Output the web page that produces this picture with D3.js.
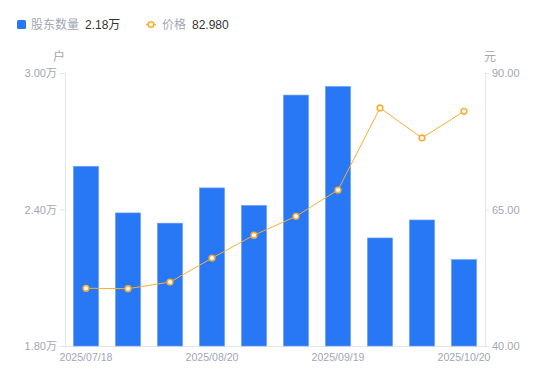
<!DOCTYPE html>
<html>
<head>
<meta charset="utf-8">
<style>
  * { margin:0; padding:0 }
  body { background:#fff; overflow:hidden; }
  svg text { font-family: "Liberation Sans", "Noto Sans CJK SC", sans-serif; }
</style>
<script src="https://cdn.jsdelivr.net/npm/d3@7"></script>
</head>
<body>
<script>
var dates = ["2025/07/18","2025/07/31","2025/08/10","2025/08/20","2025/08/31",
             "2025/09/10","2025/09/19","2025/09/30","2025/10/10","2025/10/20"];
var holders = [2.59, 2.385, 2.34, 2.495, 2.418, 2.903, 2.941, 2.275, 2.354, 2.18];  // 万户
var prices = [50.57, 50.5, 51.7, 56.1, 60.3, 63.75, 68.57, 83.6, 78.1, 82.98];
var leftTicks = [1.8, 2.4, 3.0];
var rightTicks = [40, 65, 90];

var width = 550, height = 381;
var mLeft = 65, mRight = 485, mTop = 73, mBottom = 346;
var blue = "#2878f5", orange = "#f7ae35", grey = "#a3a6b4", axisCol = "#e3e5ea";

var svg = d3.select("body").append("svg")
    .attr("width", width)
    .attr("height", height);

var x = d3.scaleBand().domain(dates).range([mLeft, mRight]).paddingInner(0.4).paddingOuter(0.2);
var y = d3.scaleLinear().domain([1.8, 3.0]).range([mBottom, mTop]);
var y2 = d3.scaleLinear().domain([40, 90]).range([mBottom, mTop]);

// axes
var yAxis = svg.append("g")
    .attr("transform", "translate(" + mLeft + ",0)")
    .call(d3.axisLeft(y).tickValues(leftTicks).tickSize(5).tickPadding(3)
      .tickFormat(function(d) { return d3.format(".2f")(d) + "万"; }));

var yAxis2 = svg.append("g")
    .attr("transform", "translate(" + mRight + ",0)")
    .call(d3.axisRight(y2).tickValues(rightTicks).tickSize(4).tickPadding(3)
      .tickFormat(d3.format(".2f")));

var xAxis = svg.append("g")
    .attr("transform", "translate(0," + mBottom + ")")
    .call(d3.axisBottom(x).tickValues(dates.filter(function(d, i) { return i % 3 == 0; }))
      .tickSize(0).tickPadding(7));

[yAxis, yAxis2, xAxis].forEach(function(g) {
  g.selectAll("path").attr("stroke", axisCol);
  g.selectAll("line").attr("stroke", axisCol);
  g.selectAll("text").attr("fill", grey).attr("font-size", 11);
});
xAxis.selectAll("text").attr("font-size", 10.6);
xAxis.select(".domain").attr("d", "M" + mLeft + ",0.5H" + mRight);

// unit labels
svg.append("text").attr("x", 59).attr("y", 61).attr("text-anchor", "middle")
  .attr("fill", grey).attr("font-size", 12).text("户");
svg.append("text").attr("x", 490).attr("y", 61).attr("text-anchor", "middle")
  .attr("fill", grey).attr("font-size", 12).text("元");

// bars
svg.append("g").selectAll("rect")
  .data(holders)
  .enter().append("rect")
    .attr("x", function(d, i) { return x(dates[i]); })
    .attr("y", function(d) { return y(d); })
    .attr("width", x.bandwidth())
    .attr("height", function(d) { return mBottom - y(d); })
    .attr("fill", blue)
    .attr("stroke", "#6ea2f8")
    .attr("stroke-width", 0.6);

// price line
var line = d3.line()
  .x(function(d, i) { return x(dates[i]) + x.bandwidth() / 2; })
  .y(function(d) { return y2(d); });

svg.append("path")
  .datum(prices)
  .attr("d", line)
  .attr("fill", "none")
  .attr("stroke", orange)
  .attr("stroke-width", 1);

svg.append("g").selectAll("circle")
  .data(prices)
  .enter().append("circle")
    .attr("cx", function(d, i) { return x(dates[i]) + x.bandwidth() / 2; })
    .attr("cy", function(d) { return y2(d); })
    .attr("r", 2.8)
    .attr("fill", "#fff")
    .attr("stroke", orange)
    .attr("stroke-width", 1.6);

// legend
var lg = svg.append("g");
lg.append("rect").attr("x", 17).attr("y", 20).attr("width", 9).attr("height", 9)
  .attr("rx", 1.5).attr("fill", blue);
lg.append("text").attr("x", 31).attr("y", 29).attr("fill", grey).attr("font-size", 12).text("股东数量");
lg.append("text").attr("x", 85).attr("y", 29).attr("fill", "#333").attr("font-size", 12)
  .text(d3.format(".2f")(holders[holders.length - 1]) + "万");
lg.append("line").attr("x1", 146).attr("x2", 156).attr("y1", 24.5).attr("y2", 24.5)
  .attr("stroke", orange).attr("stroke-width", 1.5);
lg.append("circle").attr("cx", 151).attr("cy", 24.5).attr("r", 2.8)
  .attr("fill", "#fff").attr("stroke", orange).attr("stroke-width", 1.6);
lg.append("text").attr("x", 162).attr("y", 29).attr("fill", grey).attr("font-size", 12).text("价格");
lg.append("text").attr("x", 192).attr("y", 29).attr("fill", "#333").attr("font-size", 12)
  .text(d3.format(".3f")(prices[prices.length - 1]));
</script>
</body>
</html>
